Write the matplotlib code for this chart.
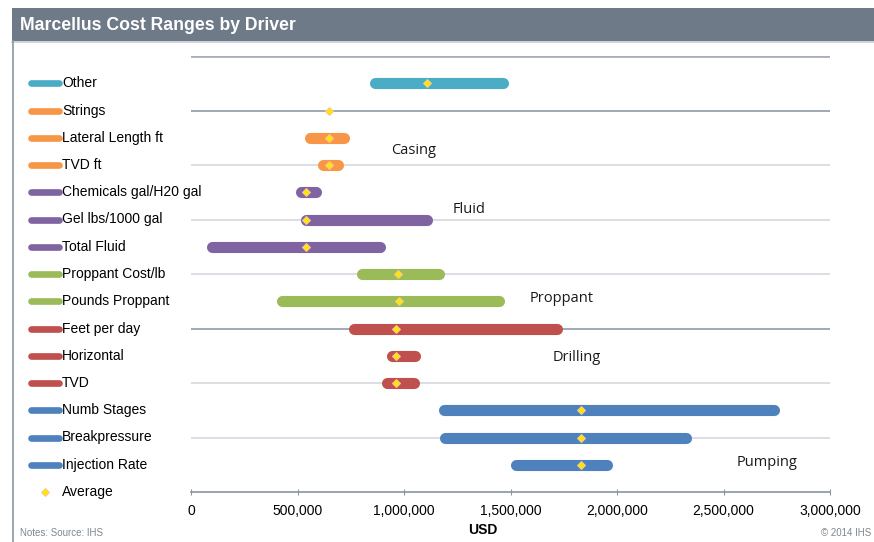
import numpy as np
import matplotlib
matplotlib.use("Agg")
import matplotlib.pyplot as plt
from matplotlib import transforms
from matplotlib.lines import Line2D
from matplotlib.patches import Rectangle

plt.rcParams['font.family'] = ['Liberation Sans', 'DejaVu Sans']

# data (USD)
drivers = ["Other", "Strings", "Lateral Length ft", "TVD ft", "Chemicals gal/H20 gal",
           "Gel lbs/1000 gal", "Total Fluid", "Proppant Cost/lb", "Pounds Proppant",
           "Feet per day", "Horizontal", "TVD", "Numb Stages", "Breakpressure",
           "Injection Rate"]
low = [865000, np.nan, 557000, 620000, 517000, 541000, 99000, 804000, 425000,
       767000, 943000, 920000, 1188000, 1194000, 1527000]
high = [1467000, np.nan, 716000, 689000, 588000, 1107000, 889000, 1166000, 1444000,
        1717000, 1053000, 1047000, 2739000, 2326000, 1951000]
average = [1110000, 649000, 649000, 649000, 541000, 541000, 541000, 973000, 975000,
           961000, 961000, 961000, 1830000, 1830000, 1830000]
groups = ["Other", "Casing", "Casing", "Casing", "Fluid", "Fluid", "Fluid",
          "Proppant", "Proppant", "Drilling", "Drilling", "Drilling",
          "Pumping", "Pumping", "Pumping"]
group_colors = {"Other": "#4BACC6", "Casing": "#F79646", "Fluid": "#8064A2",
                "Proppant": "#9BBB59", "Drilling": "#C0504D", "Pumping": "#4F81BD"}
# group label placement (x in USD, row position)
group_labels = ["Casing", "Fluid", "Proppant", "Drilling", "Pumping"]
group_label_x = [940000, 1227000, 1590000, 1700000, 2560000]
group_label_y = [3.45, 5.65, 8.9, 11.05, 14.9]

xticks = [0, 500000, 1000000, 1500000, 2000000, 2500000, 3000000]

W, H = 874, 542
fig = plt.figure(figsize=(W / 100, H / 100), dpi=100)
fig.patch.set_facecolor("white")

# header bar
fig.add_artist(Rectangle((12 / W, 1 - 41 / H), 1 - 12 / W, 33 / H,
                         transform=fig.transFigure, color="#6E7A88", lw=0))
fig.add_artist(Line2D([12 / W, 1], [1 - 42 / H] * 2, transform=fig.transFigure,
                      color="#C8CCD0", lw=1.2))
fig.add_artist(Line2D([12.5 / W] * 2, [0, 1 - 41 / H], transform=fig.transFigure,
                      color="#8C96A0", lw=1.2))
fig.text(20 / W, 1 - 25 / H, "Marcellus Cost Ranges by Driver", color="white",
         fontsize=12.7, fontweight="bold", va="center", ha="left")

ax = fig.add_axes([191 / W, 1 - 492 / H, (830 - 191) / W, (492 - 56) / H])
ax.set_xlim(0, 3000000)
ax.set_ylim(16, 0)

rows = np.arange(1, len(drivers) + 1)

# gridlines every second row
grid_pos = [0, 2, 4, 6, 8, 10, 12, 14]
grid_col = ["#A9AFBA", "#9AA1AA", "#D8DCE0", "#D8DCE0", "#D8DCE0", "#97A3B2",
            "#D8DCE0", "#D8DCE0"]
grid_lw = [2.0, 1.3, 1.3, 1.3, 1.3, 1.3, 1.3, 1.3]
for gp, gc, gw in zip(grid_pos, grid_col, grid_lw):
    ax.axhline(gp, color=gc, lw=gw, zorder=1)

for r, lo, hi, av, g in zip(rows, low, high, average, groups):
    c = group_colors[g]
    if not np.isnan(lo):
        ax.plot([lo, hi], [r, r], color=c, lw=8, solid_capstyle="round", zorder=2)
    ax.plot(av, r, marker="D", ms=4.2, color="#FFE600", mec="#F8C69A", mew=0.7, zorder=3)

for t, gx, gy in zip(group_labels, group_label_x, group_label_y):
    ax.text(gx, gy, t, fontsize=10.5, family=["Open Sans", "DejaVu Sans"],
            ha="left", va="center", color="#1a1a1a")

for s in ["top", "right", "left"]:
    ax.spines[s].set_visible(False)
ax.spines["bottom"].set_color("#8C949C")
ax.spines["bottom"].set_linewidth(1.2)
ax.set_yticks([])
ax.set_xticks(xticks)
ax.set_xticklabels([f"{v:,}" for v in xticks], fontsize=10)
ax.tick_params(axis="x", direction="inout", length=5, color="#8C949C", pad=6)
ax.patch.set_alpha(0)

# left side key
tr = transforms.blended_transform_factory(fig.transFigure, ax.transData)
for r, name, g in zip(rows, drivers, groups):
    fig.add_artist(Line2D([31 / W, 59 / W], [r, r], transform=tr,
                          color=group_colors[g], lw=4.8, solid_capstyle="round"))
    fig.text(62 / W, r, name, transform=tr, fontsize=10, va="center", ha="left")
fig.add_artist(Line2D([45 / W], [16], transform=tr, marker="D", ms=4.2,
                      color="#FFE600", mec="#F8C69A", mew=0.7, lw=0))
fig.text(62 / W, 16, "Average", transform=tr, fontsize=10, va="center", ha="left")

fig.text(483 / W, 1 - 530 / H, "USD", fontsize=10, fontweight="bold",
         ha="center", va="center")
fig.text(20 / W, 1 - 533 / H, "Notes: Source: IHS", fontsize=7, color="#7F8790",
         ha="left", va="center")
fig.text(871 / W, 1 - 533 / H, "© 2014 IHS", fontsize=7, color="#7F8790",
         ha="right", va="center")

fig.savefig("out.png", dpi=100)
